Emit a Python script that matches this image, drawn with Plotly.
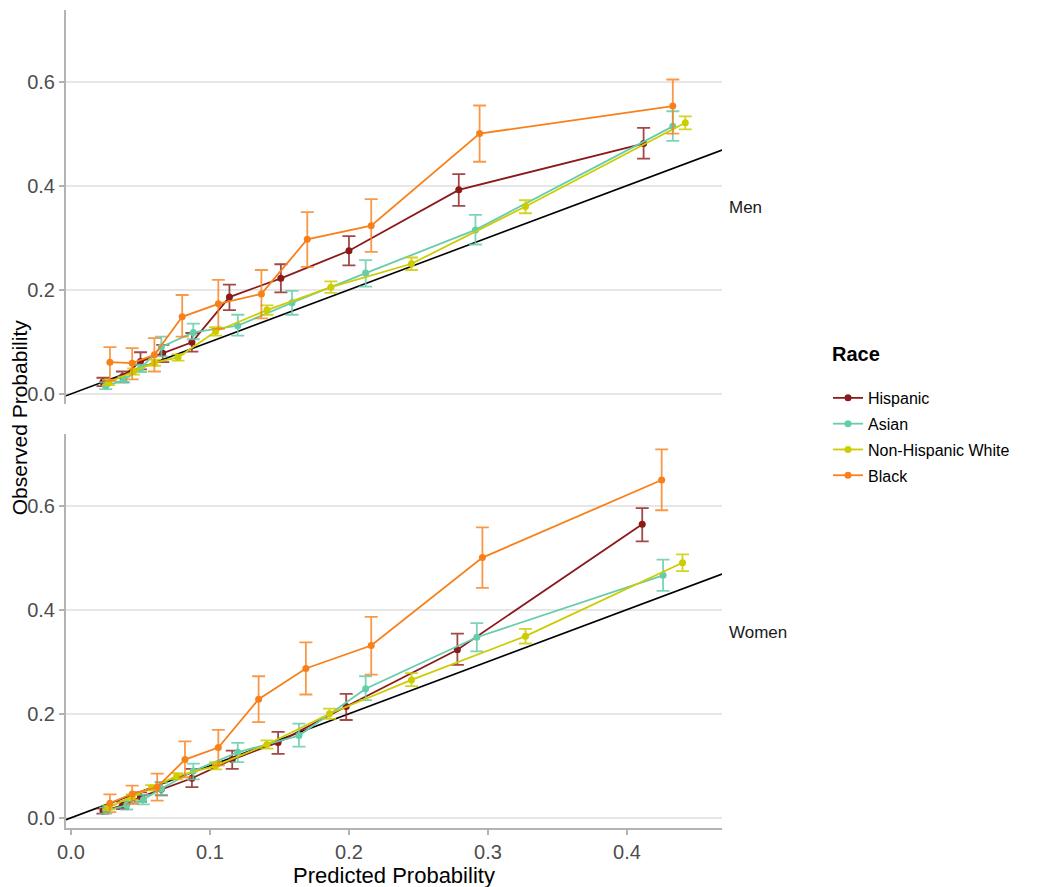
import plotly.graph_objects as go

# --- data (predicted vs observed, 95% CI) ---
races = ["Hispanic", "Asian", "Non-Hispanic White", "Black"]
colors = {"Hispanic": "#8B1A1A", "Asian": "#66CDAA",
          "Non-Hispanic White": "#CCCC00", "Black": "#F8801A"}
ebar_colors = {"Hispanic": "rgba(139,26,26,0.8)", "Asian": "rgba(102,205,170,0.85)",
               "Non-Hispanic White": "rgba(204,204,0,0.85)", "Black": "rgba(248,128,26,0.8)"}

men_pred = {
    "Hispanic": [0.023, 0.037, 0.050, 0.066, 0.087, 0.114, 0.151, 0.200, 0.279, 0.412],
    "Asian": [0.025, 0.038, 0.050, 0.065, 0.088, 0.120, 0.159, 0.212, 0.291, 0.433],
    "Non-Hispanic White": [0.027, 0.045, 0.060, 0.077, 0.104, 0.141, 0.187, 0.245, 0.327, 0.442],
    "Black": [0.028, 0.044, 0.060, 0.080, 0.106, 0.137, 0.170, 0.216, 0.294, 0.433],
}
men_obs = {
    "Hispanic": [0.023, 0.033, 0.062, 0.078, 0.099, 0.186, 0.222, 0.275, 0.392, 0.481],
    "Asian": [0.015, 0.027, 0.049, 0.090, 0.118, 0.131, 0.175, 0.232, 0.315, 0.514],
    "Non-Hispanic White": [0.022, 0.043, 0.060, 0.070, 0.120, 0.161, 0.205, 0.250, 0.360, 0.521],
    "Black": [0.061, 0.059, 0.075, 0.148, 0.173, 0.192, 0.297, 0.323, 0.500, 0.553],
}
men_lo = {
    "Hispanic": [0.015, 0.022, 0.047, 0.061, 0.081, 0.161, 0.195, 0.247, 0.361, 0.452],
    "Asian": [0.009, 0.022, 0.042, 0.072, 0.105, 0.112, 0.152, 0.206, 0.287, 0.486],
    "Non-Hispanic White": [0.017, 0.037, 0.054, 0.064, 0.112, 0.152, 0.194, 0.238, 0.347, 0.508],
    "Black": [0.025, 0.028, 0.043, 0.110, 0.125, 0.145, 0.244, 0.273, 0.446, 0.500],
}
men_hi = {
    "Hispanic": [0.031, 0.043, 0.080, 0.094, 0.117, 0.210, 0.249, 0.303, 0.422, 0.511],
    "Asian": [0.022, 0.033, 0.056, 0.110, 0.135, 0.152, 0.198, 0.257, 0.344, 0.543],
    "Non-Hispanic White": [0.027, 0.049, 0.066, 0.076, 0.128, 0.170, 0.216, 0.262, 0.372, 0.533],
    "Black": [0.090, 0.088, 0.107, 0.190, 0.219, 0.238, 0.349, 0.374, 0.554, 0.604],
}

women_pred = {
    "Hispanic": [0.023, 0.037, 0.050, 0.065, 0.087, 0.116, 0.149, 0.198, 0.278, 0.411],
    "Asian": [0.025, 0.040, 0.052, 0.065, 0.088, 0.120, 0.164, 0.212, 0.292, 0.426],
    "Non-Hispanic White": [0.027, 0.044, 0.058, 0.076, 0.104, 0.141, 0.186, 0.245, 0.327, 0.440],
    "Black": [0.028, 0.044, 0.062, 0.082, 0.106, 0.135, 0.169, 0.216, 0.296, 0.425],
}
women_obs = {
    "Hispanic": [0.013, 0.024, 0.040, 0.055, 0.076, 0.112, 0.145, 0.214, 0.323, 0.564],
    "Asian": [0.014, 0.024, 0.035, 0.056, 0.090, 0.126, 0.158, 0.248, 0.347, 0.466],
    "Non-Hispanic White": [0.020, 0.040, 0.058, 0.080, 0.100, 0.141, 0.200, 0.265, 0.349, 0.490],
    "Black": [0.028, 0.046, 0.059, 0.112, 0.135, 0.228, 0.287, 0.331, 0.500, 0.649],
}
women_lo = {
    "Hispanic": [0.008, 0.017, 0.031, 0.043, 0.059, 0.094, 0.123, 0.188, 0.294, 0.531],
    "Asian": [0.008, 0.016, 0.026, 0.044, 0.074, 0.107, 0.137, 0.226, 0.320, 0.436],
    "Non-Hispanic White": [0.016, 0.035, 0.053, 0.074, 0.093, 0.133, 0.190, 0.253, 0.335, 0.474],
    "Black": [0.011, 0.027, 0.033, 0.078, 0.101, 0.184, 0.237, 0.275, 0.442, 0.591],
}
women_hi = {
    "Hispanic": [0.018, 0.031, 0.049, 0.068, 0.094, 0.129, 0.165, 0.238, 0.354, 0.595],
    "Asian": [0.020, 0.032, 0.044, 0.068, 0.104, 0.144, 0.181, 0.272, 0.374, 0.496],
    "Non-Hispanic White": [0.024, 0.045, 0.063, 0.086, 0.107, 0.149, 0.210, 0.278, 0.363, 0.506],
    "Black": [0.045, 0.062, 0.085, 0.147, 0.169, 0.272, 0.337, 0.386, 0.558, 0.708],
}

x_ticks = [0.0, 0.1, 0.2, 0.3, 0.4]
y_ticks = [0.0, 0.2, 0.4, 0.6]
XRANGE = [-0.0036, 0.4684]
YRANGE = [-0.0195, 0.7375]

FONT = "Liberation Sans, Arial, sans-serif"
AXIS_GREY = "#B3B3B3"
GRID = "#E6E6E6"
TICK_GREY = "#4D4D4D"

fig = go.Figure()

panels = [
    ("y", men_pred, men_obs, men_lo, men_hi, True),
    ("y2", women_pred, women_obs, women_lo, women_hi, False),
]

for yref, pred, obs, lo, hi, show in panels:
    xref = "x" if yref == "y" else "x2"
    # y = x reference line across the panel
    fig.add_trace(go.Scatter(
        x=XRANGE, y=XRANGE, mode="lines",
        line=dict(color="black", width=1.6),
        xaxis=xref, yaxis=yref, showlegend=False, hoverinfo="skip",
    ))
    for r in races:
        fig.add_trace(go.Scatter(
            x=pred[r], y=obs[r], mode="lines+markers", name=r,
            line=dict(color=colors[r], width=1.8),
            marker=dict(color=colors[r], size=7),
            error_y=dict(
                type="data", symmetric=False,
                array=[h - o for h, o in zip(hi[r], obs[r])],
                arrayminus=[o - l for o, l in zip(obs[r], lo[r])],
                color=ebar_colors[r], thickness=1.8, width=6.5,
            ),
            xaxis=xref, yaxis=yref, showlegend=show, legendgroup=r,
        ))

yaxis_common = dict(
    range=YRANGE, tickvals=y_ticks, ticktext=["0.0", "0.2", "0.4", "0.6"],
    showgrid=True, gridcolor=GRID, gridwidth=1.5, zeroline=False,
    showline=True, linecolor=AXIS_GREY, linewidth=2,
    ticks="outside", ticklen=5, tickcolor=AXIS_GREY, tickwidth=1.5,
    tickfont=dict(family=FONT, size=20, color=TICK_GREY),
)

# the page body adds an 8px offset, so margins are shifted to compensate
fig.update_layout(
    width=1050, height=887,
    paper_bgcolor="white", plot_bgcolor="white",
    margin=dict(l=58, r=336, t=2, b=67),
    font=dict(family=FONT, color="black"),
    xaxis=dict(domain=[0, 1], anchor="y", range=XRANGE, matches="x2",
               showticklabels=False, showgrid=False, zeroline=False,
               showline=False, ticks=""),
    yaxis=dict(domain=[0.5183, 1.0], anchor="x", **yaxis_common),
    xaxis2=dict(domain=[0, 1], anchor="y2", range=XRANGE,
                tickvals=x_ticks, ticktext=["0.0", "0.1", "0.2", "0.3", "0.4"],
                showgrid=False, zeroline=False,
                showline=True, linecolor=AXIS_GREY, linewidth=2,
                ticks="outside", ticklen=5, tickcolor=AXIS_GREY, tickwidth=1.5,
                tickfont=dict(family=FONT, size=20, color=TICK_GREY),
                title=dict(text="Predicted Probability",
                           font=dict(family=FONT, size=22, color="black"),
                           standoff=0)),
    yaxis2=dict(domain=[0, 0.4817], anchor="x2", **yaxis_common),
    legend=dict(
        x=1.1616, xanchor="left", y=0.5465, yanchor="top",
        font=dict(family=FONT, size=16, color="black"),
        bgcolor="rgba(0,0,0,0)", tracegroupgap=2, itemwidth=30,
    ),
    annotations=[
        dict(text="<b>Race</b>", x=1.1646, y=0.5795, xref="paper", yref="paper",
             xanchor="left", yanchor="middle", showarrow=False,
             font=dict(family=FONT, size=20, color="black")),
        dict(text="Men", x=1.0076, y=0.758, xref="paper", yref="paper",
             xanchor="left", yanchor="middle", showarrow=False,
             font=dict(family=FONT, size=17, color="#1A1A1A")),
        dict(text="Women", x=1.0076, y=0.2396, xref="paper", yref="paper",
             xanchor="left", yanchor="middle", showarrow=False,
             font=dict(family=FONT, size=17, color="#1A1A1A")),
        dict(text="Observed Probability", x=-0.0716, y=0.501, xref="paper", yref="paper",
             xanchor="center", yanchor="middle", textangle=-90, showarrow=False,
             font=dict(family=FONT, size=21, color="black")),
    ],
)

fig.write_html("out.html")
